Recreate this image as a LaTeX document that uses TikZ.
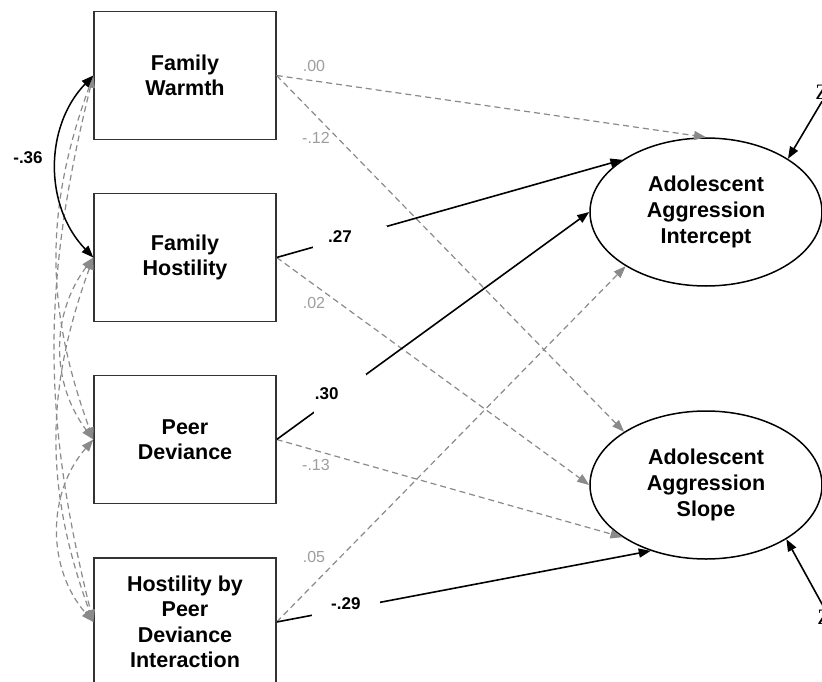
\documentclass[tikz,border=0pt]{standalone}
\usepackage{fontspec}
\setmainfont{Liberation Sans}
\newfontfamily\zfont{Liberation Serif}
\usetikzlibrary{arrows.meta,shapes.geometric}
\definecolor{dgray}{HTML}{8A8A8A}
\definecolor{lgray}{HTML}{9E9E9E}
\definecolor{boxline}{HTML}{333333}
\tikzset{
  varbox/.style={draw=boxline,line width=1.3pt,minimum width=182pt,minimum height=128pt,
    inner sep=0pt,align=center,font=\fontsize{21.5}{25.5}\selectfont\bfseries},
  latent/.style={ellipse,draw=black,line width=1.5pt,minimum width=232pt,minimum height=148pt,
    inner sep=0pt,align=center,font=\fontsize{21.5}{26}\selectfont\bfseries},
  sig/.style={-{Triangle[length=12pt,width=9pt]},line width=1.6pt,black},
  nsig/.style={-{Triangle[length=12pt,width=9pt]},line width=1.2pt,dgray,dash pattern=on 6pt off 4pt},
  gcov/.style={{Triangle[length=12pt,width=9pt]}-{Triangle[length=12pt,width=9pt]},line width=1.2pt,dgray,dash pattern=on 6pt off 4pt},
  scov/.style={{Triangle[length=12pt,width=9pt]}-{Triangle[length=12pt,width=9pt]},line width=1.5pt,black},
  blab/.style={fill=white,inner ysep=5pt,font=\fontsize{17}{17}\selectfont\bfseries,text=black},
  glab/.style={font=\fontsize{16}{16}\selectfont,text=lgray,inner sep=0pt},
  zlab/.style={font=\zfont\fontsize{22}{22}\selectfont,inner sep=2pt,text=black},
}
\begin{document}
\begin{tikzpicture}[x=1pt,y=-1pt]
\useasboundingbox (0,0) rectangle (822,682);
\fill[white] (0,0) rectangle (822,682);

% observed variables
\node[varbox] (fw) at (185,75.5) {Family\\Warmth};
\node[varbox] (fh) at (185,257.5) {Family\\Hostility};
\node[varbox] (pd) at (185,439.5) {Peer\\Deviance};
\node[varbox] (hx) at (185,622) {Hostility by\\Peer\\Deviance\\Interaction};

% latent variables
\node[latent] (int) at (706,212) {Adolescent\\Aggression\\Intercept};
\node[latent] (slope) at (706,485) {Adolescent\\Aggression\\Slope};

% disturbances
\node[zlab] (z1) at (822,92) {Z};
\node[zlab] (z2) at (824,617) {Z};

% covariances (dashed)
\draw[gcov] (fw.west) to[bend right=20] (pd.west);
\draw[gcov] (fw.west) to[bend right=14] (hx.west);
\draw[gcov] (fh.west) to[bend right=37] (pd.west);
\draw[gcov] (fh.west) to[bend right=20] (hx.west);
\draw[gcov] (pd.west) to[bend right=41] (hx.west);
% covariance (solid)
\draw[scov] (fw.west) to[bend right=44] (fh.west);
\node[font=\fontsize{17}{17}\selectfont\bfseries,inner sep=0pt] (r36) at (28,158) {-.36};

% non-significant paths
\draw[nsig] (fw.east) -- (int.90);
\draw[nsig] (fw.east) -- (slope.147);
\draw[nsig] (fh.east) -- (slope.180);
\draw[nsig] (pd.east) -- (slope.212);
\draw[nsig] (hx.east) -- (int.214);

\node[glab] (l00) at (314,66) {.00};
\node[glab] (l12) at (316,138) {-.12};
\node[glab] (l02) at (314,303) {.02};
\node[glab] (l13) at (316,465) {-.13};
\node[glab] (l05) at (314,557) {.05};

% significant paths
\draw[sig] (fh.east) -- node[blab,pos=0.212,inner xsep=15pt]{.27\hspace*{20pt}} (int.148);
\draw[sig] (pd.east) -- node[blab,pos=0.202,inner xsep=1pt,minimum height=40pt]{.30\hspace*{26pt}} (int.180);
\draw[sig] (hx.east) -- node[blab,pos=0.185,inner xsep=19pt]{\raisebox{5pt}[12pt][0pt]{-.29}} (slope.230);

% disturbance paths
\draw[sig] (z1.south) -- (int.33);
\draw[sig] (z2.north) -- (slope.326);
\end{tikzpicture}
\end{document}
